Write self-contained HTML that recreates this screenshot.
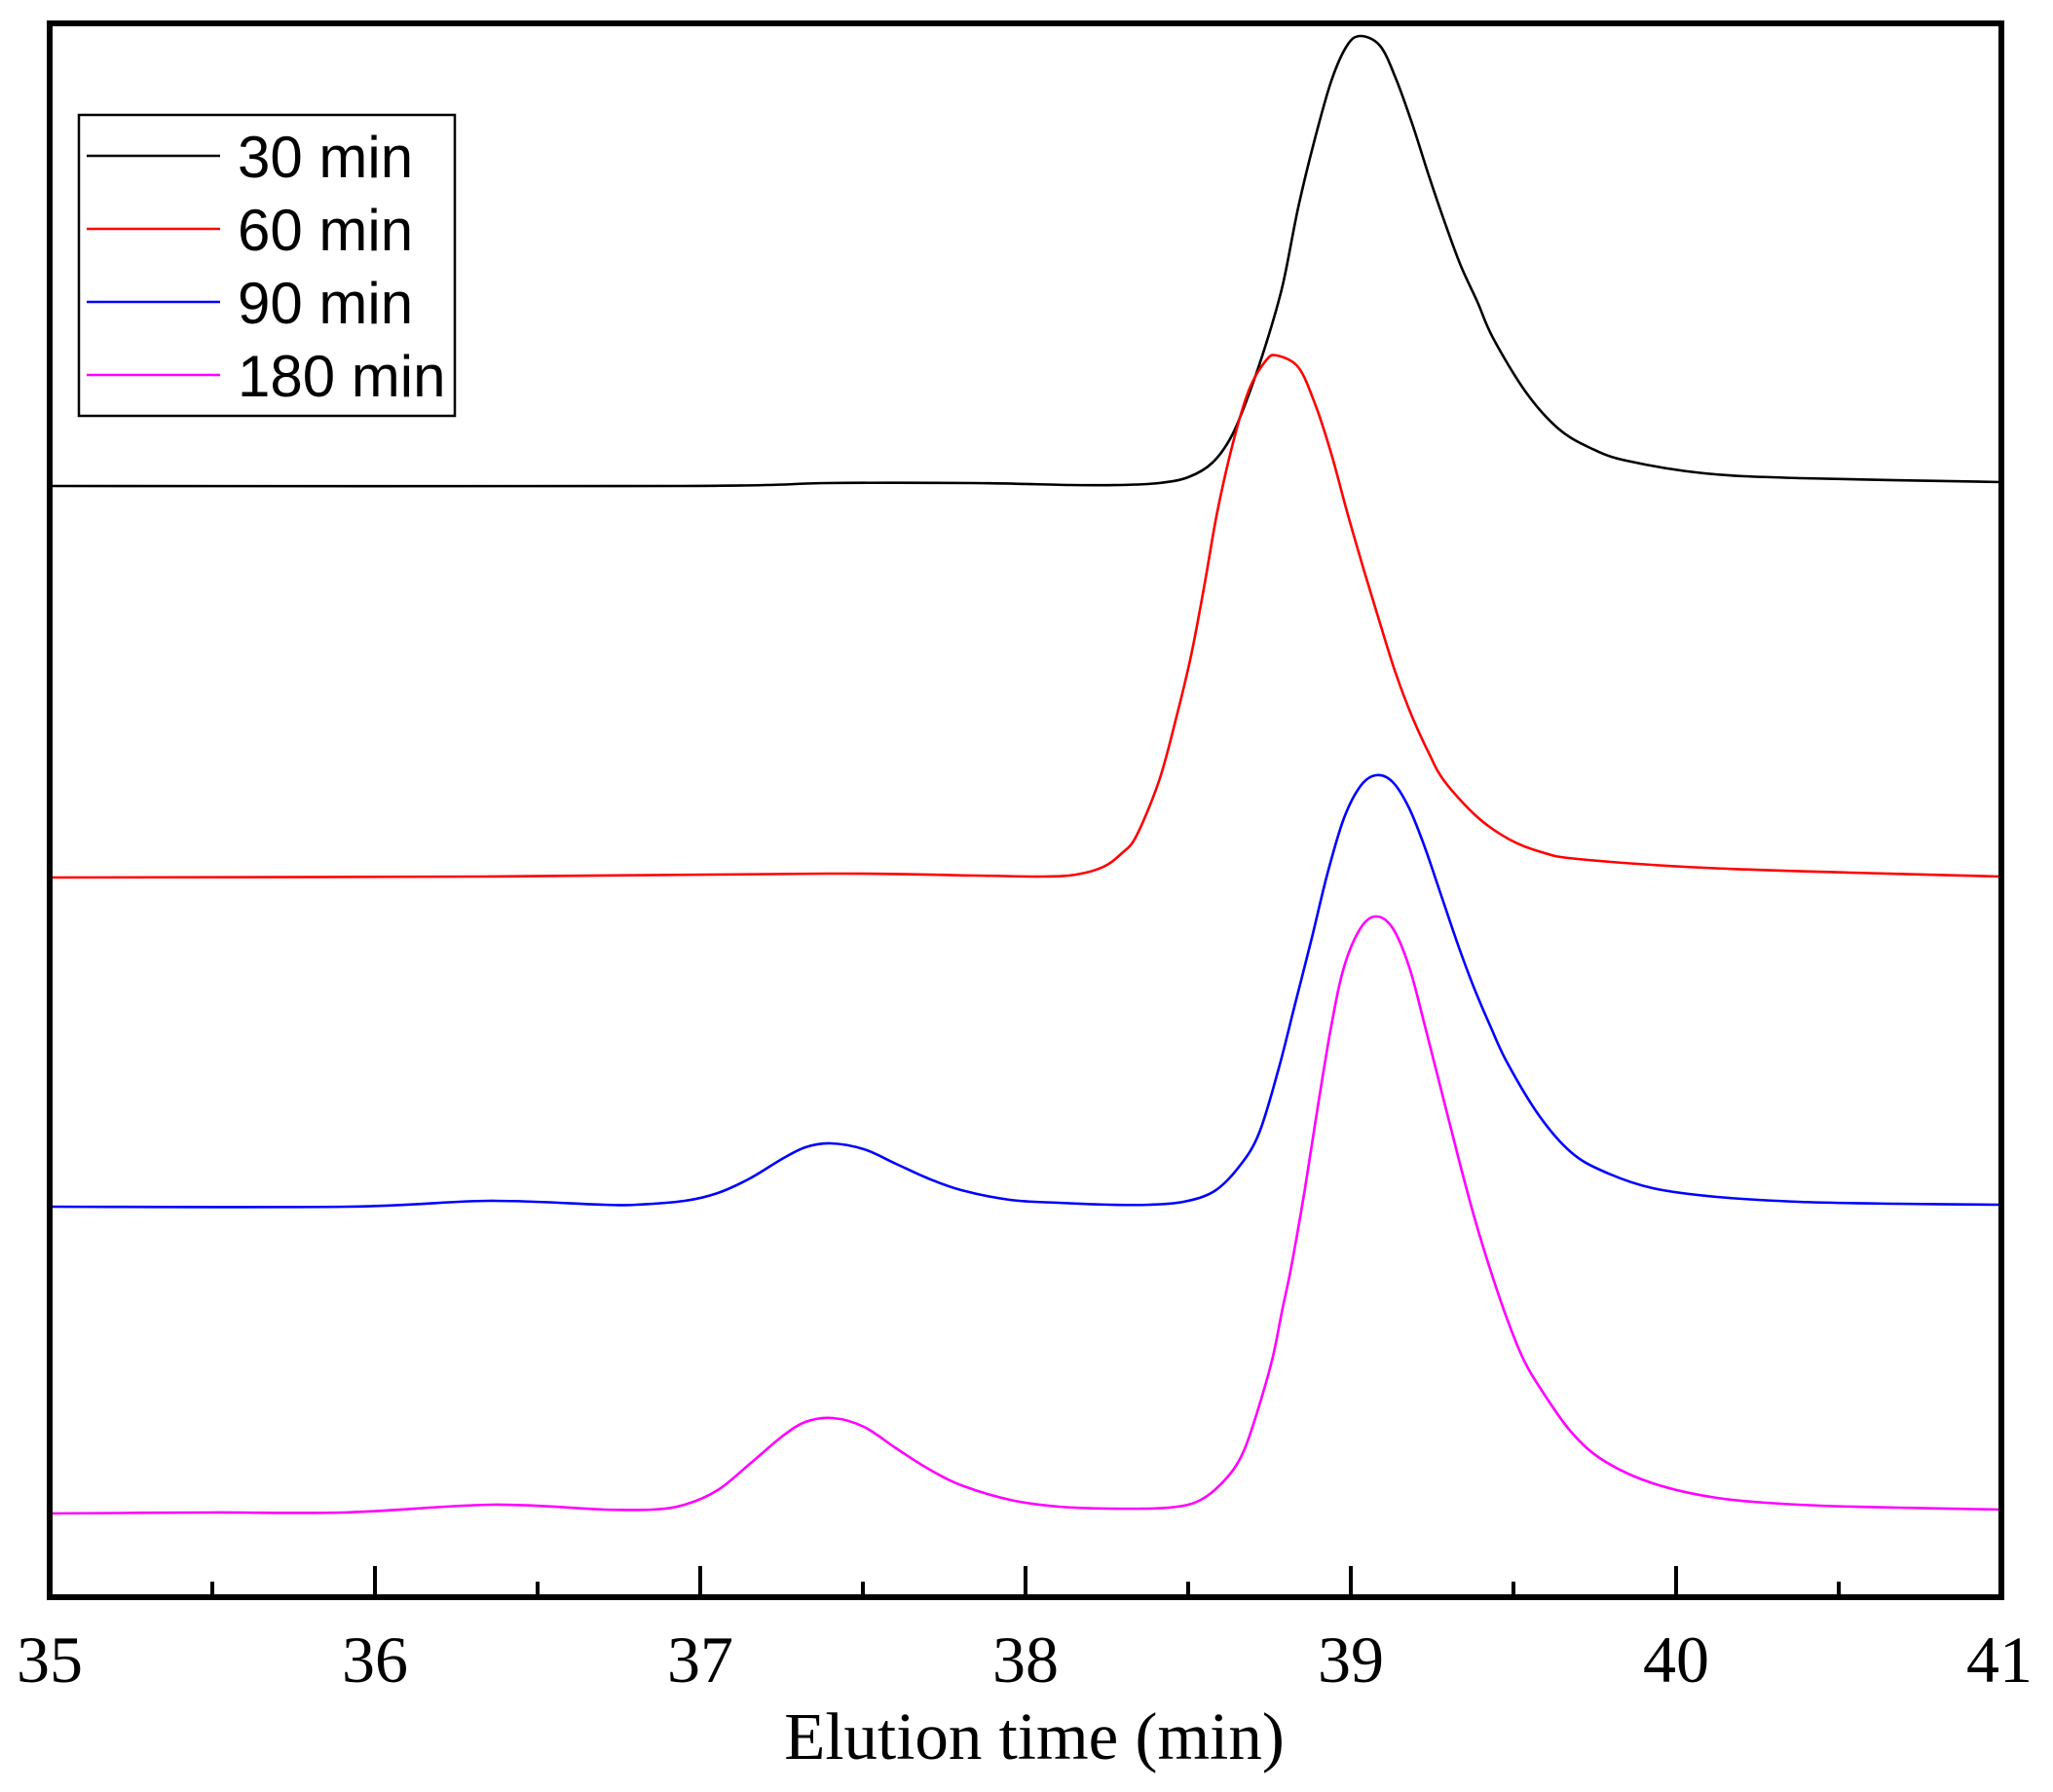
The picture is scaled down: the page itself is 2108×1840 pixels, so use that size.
<!DOCTYPE html>
<html><head><meta charset="utf-8"><style>
html,body{margin:0;padding:0;background:#fff;}
svg{display:block;}
</style></head><body>
<svg id="s" width="2108" height="1840" viewBox="0 0 2108 1840" xmlns="http://www.w3.org/2000/svg">
<rect width="2108" height="1840" fill="#fff"/>
<g id="curves" fill="none" stroke-width="2.6" stroke-linejoin="round" stroke-linecap="round"></g>
<rect x="51" y="24" width="2004" height="1616" fill="none" stroke="#000" stroke-width="6"/>
<g stroke="#000" stroke-width="4">
<line x1="385" y1="1640" x2="385" y2="1608"/><line x1="719" y1="1640" x2="719" y2="1608"/>
<line x1="1053" y1="1640" x2="1053" y2="1608"/><line x1="1387" y1="1640" x2="1387" y2="1608"/>
<line x1="1721" y1="1640" x2="1721" y2="1608"/>
<line x1="218" y1="1640" x2="218" y2="1624"/><line x1="552" y1="1640" x2="552" y2="1624"/>
<line x1="886" y1="1640" x2="886" y2="1624"/><line x1="1220" y1="1640" x2="1220" y2="1624"/>
<line x1="1554" y1="1640" x2="1554" y2="1624"/><line x1="1888" y1="1640" x2="1888" y2="1624"/>
</g>
<g font-family="'Liberation Serif',serif" font-size="68" text-anchor="middle" fill="#000">
<text x="51" y="1727">35</text><text x="385" y="1727">36</text><text x="719" y="1727">37</text>
<text x="1053" y="1727">38</text><text x="1387" y="1727">39</text><text x="1721" y="1727">40</text>
<text x="2053" y="1727">41</text>
<text x="1062" y="1806" font-size="69">Elution time (min)</text>
</g>
<rect x="81" y="118" width="386" height="309" fill="#fff" stroke="#000" stroke-width="2.5"/>
<g stroke-width="2.5">
<line x1="89" y1="160" x2="226" y2="160" stroke="#000"/>
<line x1="89" y1="235" x2="226" y2="235" stroke="#f00"/>
<line x1="89" y1="310" x2="226" y2="310" stroke="#00f"/>
<line x1="89" y1="385" x2="226" y2="385" stroke="#f0f"/>
</g>
<g font-family="'Liberation Sans',sans-serif" font-size="60" fill="#000">
<text x="244" y="182">30 min</text><text x="244" y="257">60 min</text>
<text x="244" y="332">90 min</text><text x="244" y="407">180 min</text>
</g>
</svg>
<script>
var data={
"#000":[[51,499],[700,499],[850,496],[1000,496],[1100,498],[1150,498],[1190,496],[1220,490],[1245,475],[1265,447],[1283,403],[1300,353],[1317,293],[1333,213],[1350,143],[1367,83],[1383,47],[1397,37],[1417,47],[1433,80],[1450,127],[1467,180],[1483,227],[1500,273],[1517,310],[1533,347],[1567,403],[1600,440],[1633,460],[1670,473],[1750,486],[1850,491],[2055,495]],
"#f00":[[51,901],[500,900],[850,897],[1000,899],[1070,900],[1105,898],[1133,890],[1152,876],[1167,858],[1190,802],[1207,740],[1223,673],[1237,599],[1250,525],[1267,451],[1283,399],[1300,370],[1311,365],[1333,377],[1350,414],[1367,466],[1383,525],[1400,584],[1417,640],[1433,691],[1450,736],[1467,773],[1483,802],[1517,839],[1550,862],[1583,875],[1620,882],[1750,891],[1900,896],[2055,900]],
"#00f":[[51,1239],[357,1239],[501,1233],[620,1237],[653,1237],[703,1233],[737,1225],[770,1210],[803,1190],[827,1178],[853,1174],[887,1180],[920,1195],[953,1210],[987,1222],[1037,1232],[1087,1235],[1140,1237],[1180,1237],[1215,1234],[1247,1223],[1273,1197],[1293,1163],[1313,1097],[1330,1030],[1347,963],[1363,897],[1380,840],[1397,807],[1413,796],[1430,803],[1447,830],[1463,870],[1480,920],[1497,970],[1513,1013],[1530,1053],[1547,1090],[1580,1145],[1613,1183],[1647,1203],[1697,1220],[1763,1229],[1847,1234],[1947,1236],[2055,1237]],
"#f0f":[[51,1554],[216,1553],[353,1553],[505,1545],[620,1550],[670,1550],[703,1545],[737,1530],[770,1503],[803,1475],[827,1460],[855,1456],[887,1465],[920,1487],[953,1508],[987,1525],[1037,1540],[1087,1547],[1140,1549],[1200,1548],[1233,1540],[1260,1517],[1277,1490],[1293,1443],[1307,1393],[1317,1343],[1326,1300],[1340,1220],[1353,1137],[1367,1053],[1380,993],[1397,953],[1413,941],[1430,953],[1447,993],[1463,1053],[1480,1120],[1497,1187],[1513,1247],[1530,1303],[1547,1353],[1563,1393],[1580,1423],[1613,1470],[1647,1500],[1697,1523],[1763,1538],[1847,1545],[1947,1548],[2055,1550]]
};
var g=document.getElementById('curves');
for(var c in data){var p=data[c];var d='M'+p[0][0]+','+p[0][1];
for(var i=0;i<p.length-1;i++){var p0=p[i>0?i-1:i],p1=p[i],p2=p[i+1],p3=p[i+2<p.length?i+2:i+1];
var c1x=p1[0]+(p2[0]-p0[0])/6,c1y=p1[1]+(p2[1]-p0[1])/6,c2x=p2[0]-(p3[0]-p1[0])/6,c2y=p2[1]-(p3[1]-p1[1])/6;
d+=' C'+c1x.toFixed(1)+','+c1y.toFixed(1)+' '+c2x.toFixed(1)+','+c2y.toFixed(1)+' '+p2[0]+','+p2[1];}
var e=document.createElementNS('http://www.w3.org/2000/svg','path');e.setAttribute('d',d);e.setAttribute('stroke',c);g.appendChild(e);}
</script>
</body></html>
